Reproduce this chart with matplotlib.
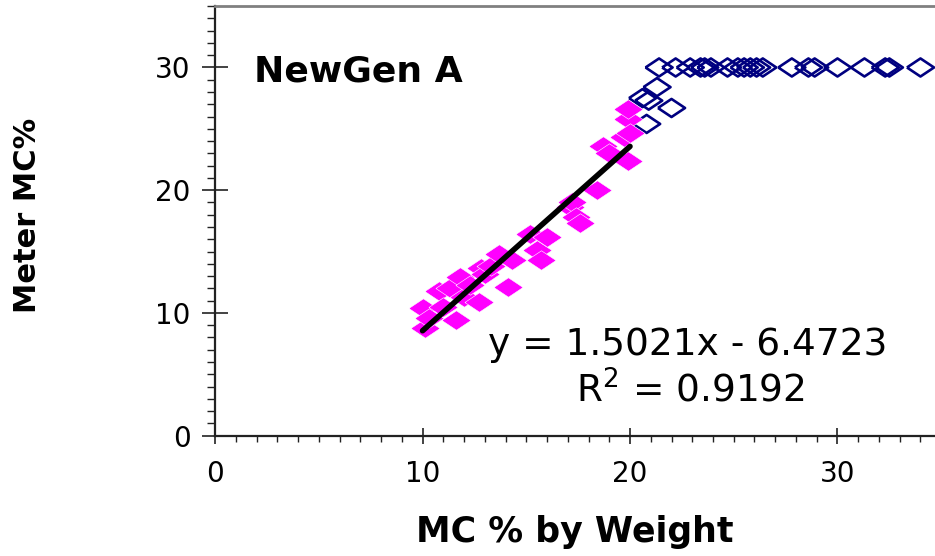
import numpy as np
import matplotlib
matplotlib.use("Agg")
import matplotlib.pyplot as plt
from matplotlib.ticker import MultipleLocator

# calibration points (oven MC vs meter reading)
pink_x = [10.1, 10.0, 10.3, 10.8, 11.0, 11.3, 11.6, 11.8, 12.0, 12.3, 12.7, 12.8,
          13.0, 13.3, 13.7, 14.1, 14.3, 15.2, 15.5, 15.7, 16.0, 17.1, 17.2, 17.4,
          17.6, 18.4, 18.7, 19.0, 19.7, 19.9, 19.9, 19.9, 20.0]
pink_y = [8.8, 10.4, 9.6, 11.8, 10.5, 12.0, 9.4, 12.9, 11.3, 12.3, 10.9, 13.7,
          13.2, 13.8, 14.8, 12.1, 14.3, 16.4, 15.1, 14.3, 16.2, 18.6, 19.0, 17.8,
          17.3, 20.0, 23.6, 23.0, 24.3, 22.4, 25.8, 26.6, 24.7]

# readings pinned at the meter's upper limit
blue_x = [20.6, 20.8, 20.9, 21.3, 22.0, 21.4, 22.2, 22.9, 23.4, 23.6, 23.9, 24.7,
          25.2, 25.5, 25.8, 26.1, 26.4, 27.8, 28.6, 28.9, 30.0, 31.3, 32.3, 32.5, 34.0]
blue_y = [27.5, 25.4, 27.3, 28.4, 26.7] + [30.0] * 20

slope, intercept = 1.5021, -6.4723
r2 = 0.9192

diamond = [(-1.5, 0), (0, 1), (1.5, 0), (0, -1), (-1.5, 0)]

fig = plt.figure(figsize=(9.35, 5.56), dpi=100)
ax = fig.add_axes([0.23, 0.2164, 0.77, 0.7726])

ax.scatter(blue_x, blue_y, marker=diamond, s=19.5 ** 2, facecolors="none",
           edgecolors="#000080", linewidths=1.9, zorder=2)
ax.scatter(pink_x, pink_y, marker=diamond, s=21 ** 2, color="#FF00FF",
           edgecolors="white", linewidths=0.4, zorder=3)

fit_x = np.array([min(pink_x), max(pink_x)])
ax.plot(fit_x, slope * fit_x + intercept, color="black", lw=4,
        solid_capstyle="round", zorder=4)

ax.set_xlim(0, 34.7)
ax.set_ylim(0, 35)
ax.set_xticks([0, 10, 20, 30])
ax.set_yticks([0, 10, 20, 30])
ax.xaxis.set_minor_locator(MultipleLocator(1))
ax.yaxis.set_minor_locator(MultipleLocator(1))

ax.spines["right"].set_visible(False)
ax.spines["top"].set_color("#808080")
ax.spines["top"].set_linewidth(2)
for s in ["left", "bottom"]:
    ax.spines[s].set_color("#222222")
    ax.spines[s].set_linewidth(1.6)

ax.tick_params(axis="x", which="major", direction="inout", length=11, width=1.2,
               labelsize=20, pad=12, colors="#222222", labelcolor="black")
ax.tick_params(axis="x", which="minor", direction="out", length=4, width=1,
               colors="#222222")
ax.tick_params(axis="y", which="major", direction="inout", length=19, width=1.2,
               labelsize=20, pad=8, colors="#222222", labelcolor="black")
ax.tick_params(axis="y", which="minor", direction="out", length=6, width=1,
               colors="#222222")

ax.set_xlabel("MC % by Weight", fontsize=25, fontweight="bold")
ax.xaxis.set_label_coords(0.5, -0.185)
ax.set_ylabel("Meter MC%", fontsize=22, fontweight="bold")
ax.yaxis.set_label_coords(-0.24, 0.514)

ax.text(1.9, 29.7, "NewGen A", fontsize=26, fontweight="bold", ha="left", va="center")
ax.text(22.8, 7.4, f"y = {slope}x - {abs(intercept)}", fontsize=27,
        ha="center", va="center")
ax.text(22.9, 3.7, f"R$^2$ = {r2}", fontsize=27, ha="center", va="center")

fig.savefig("out.png", dpi=100)
